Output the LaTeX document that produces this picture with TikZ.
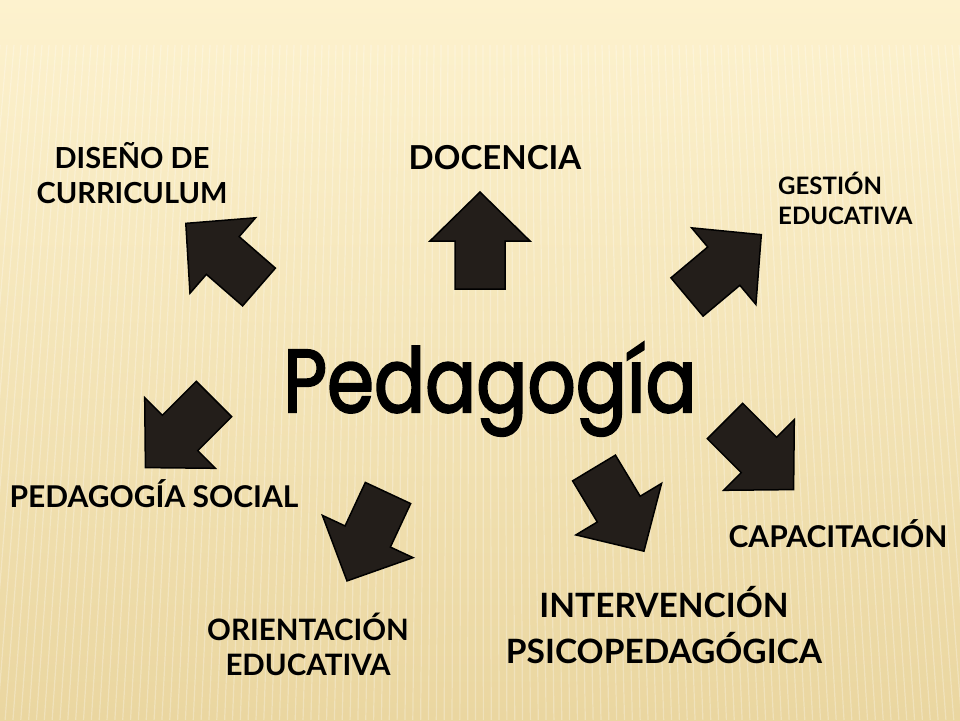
\documentclass[tikz,border=0pt]{standalone}
\usepackage{fontspec}
\setmainfont{Lato}
\newfontfamily\titlefont{Poppins}[FakeBold=2.5]

\definecolor{bgtop}{HTML}{FDF2CE}
\definecolor{bgmid}{HTML}{F8E9BC}
\definecolor{bgbot}{HTML}{EAD6A0}
\definecolor{arrowfill}{HTML}{231E1A}

\tikzset{
  arrowbody/.style={fill=arrowfill,draw=black,line width=1.5pt},
  blockarrow/.pic={
    \draw[arrowbody] (0,-25) -- (48,-25) -- (48,-50) -- (97,0) -- (48,50) -- (48,25) -- (0,25) -- cycle;
  },
  topic/.style={font=\bfseries,align=center,inner sep=0pt,text=black},
}

\begin{document}
\begin{tikzpicture}[x=1pt,y=-1pt]
\useasboundingbox (0,0) rectangle (960,720);
\shade[top color=bgtop,middle color=bgmid,bottom color=bgbot] (0,0) rectangle (960,720);
\foreach \x in {0,7,...,966}
  \draw[white,opacity=0.28,line width=1.2pt] (\x,45) -- ({\x+(\x-480)*0.12},720);

% the seven arrows
\pic[rotate=90] at (480,289) {blockarrow};
\pic[rotate=139] at (259,287) {blockarrow};
\pic[rotate=40] at (687,297) {blockarrow};
\pic[rotate=-45] at (725,421) {blockarrow};
\pic[rotate=-59] at (594,468) {blockarrow};
\pic[rotate=225] at (214,399) {blockarrow};
\pic[rotate=-115] at (388,493) {blockarrow};

\node[topic,anchor=base,font=\titlefont\fontsize{89}{89}\selectfont] (ped) at (490,412) {\scalebox{0.85}[1]{Pedagogía}};

\node[topic,font=\bfseries\fontsize{29}{35}\selectfont] (dis) at (132,173) {DISEÑO DE\\CURRICULUM};
\node[topic,anchor=base,font=\bfseries\fontsize{33}{40}\selectfont] (doc) at (495,169) {DOCENCIA};
\node[topic,anchor=west,align=left,font=\bfseries\fontsize{24}{30}\selectfont] (ges) at (778,198) {GESTIÓN\\EDUCATIVA};
\node[topic,anchor=base,font=\bfseries\fontsize{30}{34}\selectfont] (soc) at (154,507) {PEDAGOGÍA SOCIAL};
\node[topic,anchor=base,font=\bfseries\fontsize{30}{34}\selectfont] (cap) at (838,547) {CAPACITACIÓN};
\node[topic,font=\bfseries\fontsize{33.5}{46}\selectfont] (int) at (664,625) {INTERVENCIÓN\\PSICOPEDAGÓGICA};
\node[topic,font=\bfseries\fontsize{29.5}{35}\selectfont] (ori) at (308,644) {ORIENTACIÓN\\EDUCATIVA};
\end{tikzpicture}
\end{document}
